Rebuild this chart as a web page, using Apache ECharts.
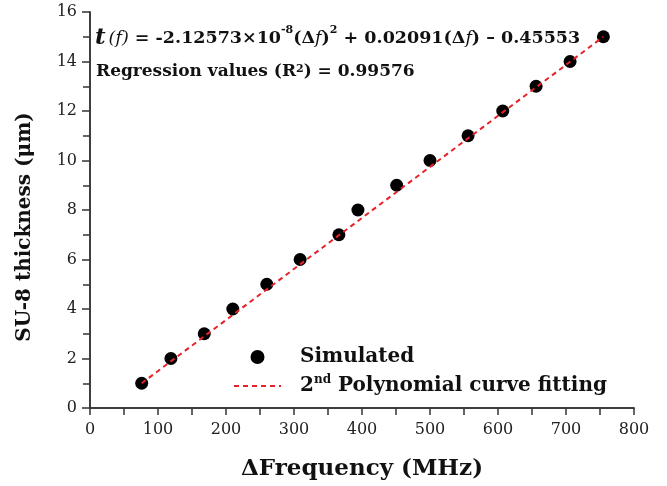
<!DOCTYPE html>
<html>
<head>
<meta charset="utf-8">
<script src="https://cdn.jsdelivr.net/npm/echarts@6/dist/echarts.min.js"></script>
<style>
  html, body { margin: 0; padding: 0; background: #fff; }
  #chart { width: 667px; height: 486px; }
</style>
</head>
<body>
<div id="chart"></div>
<script>
  // simulated points
  const deltaFreq = [76, 119, 168, 210, 260, 309, 366, 394, 451, 500, 556, 607, 656, 706, 755];
  const thickness = [1, 2, 3, 4, 5, 6, 7, 8, 9, 10, 11, 12, 13, 14, 15];

  // dashed fitting line
  const fitFreq = [76, 755];
  const fitThick = [1.0, 15.0];

  const xTicks = [0, 800, 100];
  const yTicks = [0, 16, 2];

  const serif = '"DejaVu Serif", "Liberation Serif", serif';

  const chart = echarts.init(document.getElementById('chart'));

  const axisLine = { lineStyle: { color: '#333', width: 1.5 } };

  const option = {
    animation: false,
    grid: { left: 90, right: 33, top: 12, bottom: 77 },
    legend: {
      orient: 'vertical',
      left: 228,
      top: 340,
      itemWidth: 47,
      itemHeight: 14,
      itemGap: 5,
      data: [
        { name: 'Simulated' },
        { name: 'fit', itemStyle: { color: 'transparent', borderWidth: 0 } }
      ],
      formatter: function (name) {
        return name === 'fit' ? '2{sup|nd} Polynomial curve fitting' : 'Simulated';
      },
      textStyle: {
        fontFamily: serif,
        fontWeight: 'bold',
        fontSize: 20,
        color: '#111',
        lineHeight: 24,
        padding: [0, 0, 0, 14],
        rich: {
          sup: { fontFamily: serif, fontWeight: 'bold', fontSize: 12, verticalAlign: 'top', lineHeight: 16, color: '#111' }
        }
      }
    },
    xAxis: [{
      type: 'value',
      min: xTicks[0], max: xTicks[1], interval: xTicks[2],
      name: 'ΔFrequency (MHz)',
      nameLocation: 'middle',
      nameGap: 50,
      nameTextStyle: { fontFamily: serif, fontWeight: 'bold', fontSize: 23, color: '#111' },
      axisLine: axisLine,
      axisTick: { length: 6, lineStyle: { color: '#333', width: 1.5 } },
      minorTick: { show: true, splitNumber: 2, length: 3, lineStyle: { color: '#333', width: 1.5 } },
      axisLabel: { fontFamily: serif, fontSize: 16, color: '#222', margin: 14 },
      splitLine: { show: false }
    }, {
      type: 'value',
      position: 'top',
      min: xTicks[0], max: xTicks[1], interval: xTicks[2],
      axisLine: axisLine,
      axisTick: { inside: true, length: 7, lineStyle: { color: '#333', width: 1.5 } },
      minorTick: { show: true, splitNumber: 2, length: 7, lineStyle: { color: '#333', width: 1.5 } },
      axisLabel: { show: false },
      splitLine: { show: false }
    }],
    yAxis: [{
      type: 'value',
      min: yTicks[0], max: yTicks[1], interval: yTicks[2],
      axisLine: axisLine,
      axisTick: { length: 8, lineStyle: { color: '#333', width: 1.5 } },
      minorTick: { show: true, splitNumber: 2, length: 3, lineStyle: { color: '#333', width: 1.5 } },
      axisLabel: { fontFamily: serif, fontSize: 16, color: '#222', margin: 13 },
      splitLine: { show: false }
    }, {
      type: 'value',
      position: 'right',
      min: yTicks[0], max: yTicks[1], interval: yTicks[2],
      axisLine: axisLine,
      axisTick: { inside: true, length: 7, lineStyle: { color: '#333', width: 1.5 } },
      minorTick: { show: true, splitNumber: 2, length: 7, lineStyle: { color: '#333', width: 1.5 } },
      axisLabel: { show: false },
      splitLine: { show: false }
    }],
    graphic: [{
      type: 'text',
      rotation: Math.PI / 2,
      x: 25,
      y: 227,
      style: {
        text: 'SU-8 thickness (μm)',
        fontFamily: serif, fontWeight: 'bold', fontSize: 20, fill: '#111',
        align: 'center', verticalAlign: 'middle'
      }
    }, {
      type: 'text',
      x: 95,
      y: 38,
      style: {
        text: '{it|t}{fi|(f)}{n| = -2.12573×10}{sup|-8}{n|(Δ}{fi|f}{n|)}{sup|2}{n| + 0.02091(Δ}{fi|f}{n|) – 0.45553}',
        fontFamily: serif, fontWeight: 'bold', fontSize: 17.5, fill: '#111',
        align: 'left', verticalAlign: 'middle',
        rich: {
          it: { fontFamily: serif, fontStyle: 'italic', fontWeight: 'bold', fontSize: 23, lineHeight: 26, padding: [0, 3, 0, 0] },
          fi: { fontFamily: serif, fontStyle: 'italic', fontWeight: 'normal', fontSize: 17.5, lineHeight: 26 },
          n: { fontFamily: serif, fontWeight: 'bold', fontSize: 17.5, lineHeight: 26 },
          sup: { fontFamily: serif, fontWeight: 'bold', fontSize: 11, lineHeight: 17, verticalAlign: 'top' }
        }
      }
    }, {
      type: 'text',
      x: 96,
      y: 72,
      style: {
        text: 'Regression values (R{sup|2}) = 0.99576',
        fontFamily: serif, fontWeight: 'bold', fontSize: 17, fill: '#111',
        align: 'left', verticalAlign: 'middle',
        rich: {
          sup: { fontFamily: serif, fontWeight: 'bold', fontSize: 11, verticalAlign: 'top', lineHeight: 16 }
        }
      }
    }],
    series: [{
      name: 'Simulated',
      type: 'scatter',
      symbol: 'circle',
      symbolSize: 13,
      itemStyle: { color: '#000', opacity: 1 },
      data: deltaFreq.map((f, i) => [f, thickness[i]]),
      z: 2
    }, {
      name: 'fit',
      type: 'line',
      symbol: 'none',
      lineStyle: { color: '#e8202a', width: 2, type: [5, 4] },
      itemStyle: { color: '#e8202a' },
      data: fitFreq.map((f, i) => [f, fitThick[i]]),
      z: 3
    }]
  };

  chart.setOption(option);
</script>
</body>
</html>
